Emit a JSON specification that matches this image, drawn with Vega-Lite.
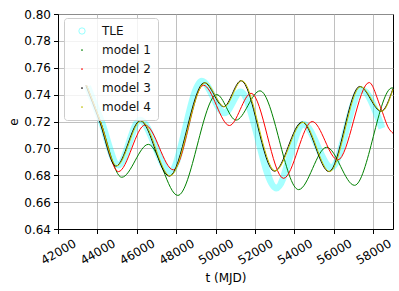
{
  "$schema": "https://vega.github.io/schema/vega-lite/v6.json",
  "width": 335,
  "height": 215,
  "autosize": "none",
  "padding": {"left": 58, "top": 14, "right": 6, "bottom": 62},
  "config": {
    "font": "DejaVu Sans",
    "view": {"stroke": "#000000", "strokeWidth": 1},
    "axis": {
      "labelFont": "DejaVu Sans", "labelFontSize": 12, "labelColor": "#000000",
      "titleFont": "DejaVu Sans", "titleFontSize": 12, "titleFontWeight": "normal", "titleColor": "#000000",
      "domainColor": "#000000", "tickColor": "#000000", "tickSize": 4.5,
      "gridColor": "#b0b0b0", "gridWidth": 0.8, "gridOpacity": 1
    }
  },
  "data": {
    "values": [
      {"series": "TLE", "t": 43500, "e": 0.746},
      {"series": "TLE", "t": 44150, "e": 0.722},
      {"series": "TLE", "t": 45065, "e": 0.6876},
      {"series": "TLE", "t": 46166, "e": 0.721},
      {"series": "TLE", "t": 47690, "e": 0.6827},
      {"series": "TLE", "t": 49300, "e": 0.750},
      {"series": "TLE", "t": 50450, "e": 0.7265},
      {"series": "TLE", "t": 51260, "e": 0.742},
      {"series": "TLE", "t": 53080, "e": 0.6705},
      {"series": "TLE", "t": 54450, "e": 0.718},
      {"series": "TLE", "t": 55870, "e": 0.6858},
      {"series": "TLE", "t": 57400, "e": 0.7437},
      {"series": "TLE", "t": 58440, "e": 0.715},

      {"series": "model 1", "t": 43450, "e": 0.747},
      {"series": "model 1", "t": 44130, "e": 0.721},
      {"series": "model 1", "t": 45234, "e": 0.6785},
      {"series": "model 1", "t": 46587, "e": 0.703},
      {"series": "model 1", "t": 48080, "e": 0.665},
      {"series": "model 1", "t": 50060, "e": 0.740},
      {"series": "model 1", "t": 51030, "e": 0.721},
      {"series": "model 1", "t": 52250, "e": 0.7428},
      {"series": "model 1", "t": 54210, "e": 0.6693},
      {"series": "model 1", "t": 55630, "e": 0.7008},
      {"series": "model 1", "t": 57050, "e": 0.6725},
      {"series": "model 1", "t": 58950, "e": 0.745},
      {"series": "model 1", "t": 59000, "e": 0.7449},

      {"series": "model 2", "t": 43450, "e": 0.747},
      {"series": "model 2", "t": 44130, "e": 0.721},
      {"series": "model 2", "t": 45065, "e": 0.6827},
      {"series": "model 2", "t": 46420, "e": 0.7174},
      {"series": "model 2", "t": 47858, "e": 0.684},
      {"series": "model 2", "t": 49380, "e": 0.747},
      {"series": "model 2", "t": 50700, "e": 0.717},
      {"series": "model 2", "t": 51800, "e": 0.741},
      {"series": "model 2", "t": 53445, "e": 0.6777},
      {"series": "model 2", "t": 54900, "e": 0.720},
      {"series": "model 2", "t": 56200, "e": 0.6914},
      {"series": "model 2", "t": 57790, "e": 0.749},
      {"series": "model 2", "t": 58360, "e": 0.731},
      {"series": "model 2", "t": 58780, "e": 0.715},
      {"series": "model 2", "t": 59000, "e": 0.7112},

      {"series": "model 3", "t": 43410, "e": 0.747},
      {"series": "model 3", "t": 44090, "e": 0.721},
      {"series": "model 3", "t": 44940, "e": 0.6868},
      {"series": "model 3", "t": 46176, "e": 0.7206},
      {"series": "model 3", "t": 47650, "e": 0.6793},
      {"series": "model 3", "t": 49428, "e": 0.7489},
      {"series": "model 3", "t": 50410, "e": 0.7310},
      {"series": "model 3", "t": 51290, "e": 0.7504},
      {"series": "model 3", "t": 52980, "e": 0.6830},
      {"series": "model 3", "t": 54390, "e": 0.7196},
      {"series": "model 3", "t": 55750, "e": 0.6827},
      {"series": "model 3", "t": 57310, "e": 0.7461},
      {"series": "model 3", "t": 58400, "e": 0.7276},
      {"series": "model 3", "t": 59000, "e": 0.7445},

      {"series": "model 4", "t": 43450, "e": 0.747},
      {"series": "model 4", "t": 44130, "e": 0.721},
      {"series": "model 4", "t": 44980, "e": 0.687},
      {"series": "model 4", "t": 46216, "e": 0.7206},
      {"series": "model 4", "t": 47690, "e": 0.6795},
      {"series": "model 4", "t": 49468, "e": 0.7489},
      {"series": "model 4", "t": 50450, "e": 0.7310},
      {"series": "model 4", "t": 51330, "e": 0.7504},
      {"series": "model 4", "t": 53020, "e": 0.6832},
      {"series": "model 4", "t": 54430, "e": 0.7194},
      {"series": "model 4", "t": 55790, "e": 0.6827},
      {"series": "model 4", "t": 57350, "e": 0.7459},
      {"series": "model 4", "t": 58440, "e": 0.7276},
      {"series": "model 4", "t": 59000, "e": 0.7440}
    ]
  },
  "encoding": {
    "x": {
      "field": "t", "type": "quantitative",
      "scale": {"domain": [42000, 59000], "nice": false, "zero": false},
      "axis": {
        "title": "t (MJD)", "values": [42000, 44000, 46000, 48000, 50000, 52000, 54000, 56000, 58000],
        "format": "d", "labelAngle": -30, "labelAlign": "center", "labelBaseline": "middle",
        "labelPadding": 18, "titleY": 48, "titleBaseline": "middle"
      }
    },
    "y": {
      "field": "e", "type": "quantitative",
      "scale": {"domain": [0.64, 0.80], "nice": false, "zero": false},
      "axis": {
        "title": "e", "values": [0.64, 0.66, 0.68, 0.70, 0.72, 0.74, 0.76, 0.78, 0.80],
        "format": ".2f", "labelPadding": 3, "titleX": -45, "titleBaseline": "middle"
      }
    },
    "color": {
      "field": "series", "type": "nominal",
      "scale": {
        "domain": ["TLE", "model 1", "model 2", "model 3", "model 4"],
        "range": ["#00ffff", "#008000", "#ff0000", "#000000", "#bfbf00"]
      },
      "legend": {
        "title": null, "orient": "none", "legendX": 6, "legendY": 4,
        "fillColor": "rgba(255,255,255,0.8)", "strokeColor": "#cccccc", "cornerRadius": 3,
        "padding": 7, "rowPadding": 7, "labelFontSize": 12, "labelFont": "DejaVu Sans", "labelColor": "#111111",
        "symbolType": "circle", "symbolSize": 40, "symbolOffset": 5, "labelOffset": 14,
        "encode": {
          "symbols": {
            "update": {
              "shape": {"value": "circle"},
              "size": {"signal": "datum.value === 'TLE' ? 40 : 3"},
              "strokeWidth": {"signal": "datum.value === 'TLE' ? 1 : 0"},
              "fill": {"signal": "datum.value === 'TLE' ? 'transparent' : scale('color', datum.value)"},
              "strokeOpacity": {"value": 0.4},
              "opacity": {"value": 1}
            }
          }
        }
      }
    }
  },
  "layer": [
    {
      "transform": [{"filter": "datum.series === 'TLE'"}],
      "mark": {"type": "line", "interpolate": "monotone", "strokeWidth": 7, "opacity": 0.35}
    },
    {
      "transform": [{"filter": "datum.series !== 'TLE'"}],
      "mark": {"type": "line", "interpolate": "monotone", "strokeWidth": 1}
    }
  ]
}
